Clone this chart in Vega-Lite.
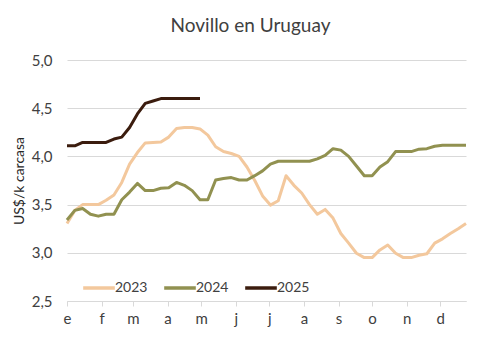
{
  "$schema": "https://vega.github.io/schema/vega-lite/v6.json",
  "width": 399,
  "height": 241,
  "autosize": "none",
  "padding": {"left": 67, "top": 60, "right": 34, "bottom": 47},
  "background": "white",
  "config": {
    "font": "Lato",
    "view": {"stroke": null}
  },
  "title": {
    "text": "Novillo en Uruguay",
    "fontSize": 19,
    "fontWeight": "normal",
    "color": "#404040",
    "anchor": "middle",
    "frame": "group",
    "dx": -16,
    "baseline": "alphabetic",
    "offset": 2
  },
  "data": {
    "values": [
      {"year": "2023", "day": 0, "price": 3.305}, {"year": "2023", "day": 7, "price": 3.44}, {"year": "2023", "day": 14, "price": 3.5}, {"year": "2023", "day": 21, "price": 3.5},
      {"year": "2023", "day": 28, "price": 3.5}, {"year": "2023", "day": 35, "price": 3.545}, {"year": "2023", "day": 42, "price": 3.6}, {"year": "2023", "day": 49, "price": 3.73},
      {"year": "2023", "day": 56, "price": 3.92}, {"year": "2023", "day": 63, "price": 4.04}, {"year": "2023", "day": 70, "price": 4.14}, {"year": "2023", "day": 77, "price": 4.145},
      {"year": "2023", "day": 84, "price": 4.15}, {"year": "2023", "day": 91, "price": 4.2}, {"year": "2023", "day": 98, "price": 4.29}, {"year": "2023", "day": 105, "price": 4.3},
      {"year": "2023", "day": 112, "price": 4.3}, {"year": "2023", "day": 119, "price": 4.285}, {"year": "2023", "day": 126, "price": 4.22}, {"year": "2023", "day": 133, "price": 4.1},
      {"year": "2023", "day": 140, "price": 4.05}, {"year": "2023", "day": 147, "price": 4.03}, {"year": "2023", "day": 154, "price": 4.0}, {"year": "2023", "day": 161, "price": 3.89},
      {"year": "2023", "day": 168, "price": 3.75}, {"year": "2023", "day": 175, "price": 3.59}, {"year": "2023", "day": 182, "price": 3.495}, {"year": "2023", "day": 189, "price": 3.54},
      {"year": "2023", "day": 196, "price": 3.8}, {"year": "2023", "day": 203, "price": 3.7}, {"year": "2023", "day": 210, "price": 3.62}, {"year": "2023", "day": 217, "price": 3.5},
      {"year": "2023", "day": 224, "price": 3.4}, {"year": "2023", "day": 231, "price": 3.45}, {"year": "2023", "day": 238, "price": 3.36}, {"year": "2023", "day": 245, "price": 3.2},
      {"year": "2023", "day": 252, "price": 3.1}, {"year": "2023", "day": 259, "price": 2.995}, {"year": "2023", "day": 266, "price": 2.95}, {"year": "2023", "day": 273, "price": 2.95},
      {"year": "2023", "day": 280, "price": 3.03}, {"year": "2023", "day": 287, "price": 3.08}, {"year": "2023", "day": 294, "price": 2.995}, {"year": "2023", "day": 301, "price": 2.95},
      {"year": "2023", "day": 308, "price": 2.95}, {"year": "2023", "day": 315, "price": 2.975}, {"year": "2023", "day": 322, "price": 2.99}, {"year": "2023", "day": 329, "price": 3.1},
      {"year": "2023", "day": 336, "price": 3.145}, {"year": "2023", "day": 343, "price": 3.2}, {"year": "2023", "day": 350, "price": 3.25}, {"year": "2023", "day": 357, "price": 3.305},

      {"year": "2024", "day": 0, "price": 3.34}, {"year": "2024", "day": 7, "price": 3.44}, {"year": "2024", "day": 14, "price": 3.46}, {"year": "2024", "day": 21, "price": 3.4},
      {"year": "2024", "day": 28, "price": 3.38}, {"year": "2024", "day": 35, "price": 3.4}, {"year": "2024", "day": 42, "price": 3.4}, {"year": "2024", "day": 49, "price": 3.55},
      {"year": "2024", "day": 56, "price": 3.63}, {"year": "2024", "day": 63, "price": 3.72}, {"year": "2024", "day": 70, "price": 3.645}, {"year": "2024", "day": 77, "price": 3.645},
      {"year": "2024", "day": 84, "price": 3.67}, {"year": "2024", "day": 91, "price": 3.675}, {"year": "2024", "day": 98, "price": 3.73}, {"year": "2024", "day": 105, "price": 3.7},
      {"year": "2024", "day": 112, "price": 3.645}, {"year": "2024", "day": 119, "price": 3.55}, {"year": "2024", "day": 126, "price": 3.55}, {"year": "2024", "day": 133, "price": 3.755},
      {"year": "2024", "day": 140, "price": 3.77}, {"year": "2024", "day": 147, "price": 3.78}, {"year": "2024", "day": 154, "price": 3.755}, {"year": "2024", "day": 161, "price": 3.755},
      {"year": "2024", "day": 168, "price": 3.8}, {"year": "2024", "day": 175, "price": 3.85}, {"year": "2024", "day": 182, "price": 3.92}, {"year": "2024", "day": 189, "price": 3.95},
      {"year": "2024", "day": 196, "price": 3.95}, {"year": "2024", "day": 203, "price": 3.95}, {"year": "2024", "day": 210, "price": 3.95}, {"year": "2024", "day": 217, "price": 3.95},
      {"year": "2024", "day": 224, "price": 3.975}, {"year": "2024", "day": 231, "price": 4.01}, {"year": "2024", "day": 238, "price": 4.08}, {"year": "2024", "day": 245, "price": 4.065},
      {"year": "2024", "day": 252, "price": 4.0}, {"year": "2024", "day": 259, "price": 3.9}, {"year": "2024", "day": 266, "price": 3.8}, {"year": "2024", "day": 273, "price": 3.8},
      {"year": "2024", "day": 280, "price": 3.89}, {"year": "2024", "day": 287, "price": 3.945}, {"year": "2024", "day": 294, "price": 4.05}, {"year": "2024", "day": 301, "price": 4.05},
      {"year": "2024", "day": 308, "price": 4.05}, {"year": "2024", "day": 315, "price": 4.075}, {"year": "2024", "day": 322, "price": 4.08}, {"year": "2024", "day": 329, "price": 4.105},
      {"year": "2024", "day": 336, "price": 4.115}, {"year": "2024", "day": 343, "price": 4.115}, {"year": "2024", "day": 350, "price": 4.115}, {"year": "2024", "day": 357, "price": 4.115},

      {"year": "2025", "day": 0, "price": 4.11}, {"year": "2025", "day": 7, "price": 4.11}, {"year": "2025", "day": 14, "price": 4.145}, {"year": "2025", "day": 21, "price": 4.145},
      {"year": "2025", "day": 28, "price": 4.145}, {"year": "2025", "day": 35, "price": 4.145}, {"year": "2025", "day": 42, "price": 4.18}, {"year": "2025", "day": 49, "price": 4.2},
      {"year": "2025", "day": 56, "price": 4.3}, {"year": "2025", "day": 63, "price": 4.44}, {"year": "2025", "day": 70, "price": 4.55}, {"year": "2025", "day": 77, "price": 4.575},
      {"year": "2025", "day": 84, "price": 4.6}, {"year": "2025", "day": 91, "price": 4.6}, {"year": "2025", "day": 98, "price": 4.6}, {"year": "2025", "day": 105, "price": 4.6},
      {"year": "2025", "day": 112, "price": 4.6}, {"year": "2025", "day": 119, "price": 4.6}
    ]
  },
  "mark": {"type": "line", "strokeWidth": 3, "strokeJoin": "round"},
  "encoding": {
    "x": {
      "field": "day",
      "type": "quantitative",
      "scale": {"domain": [0, 357], "nice": false, "zero": false},
      "axis": {
        "title": null,
        "values": [0, 31, 59, 90, 120, 151, 181, 212, 243, 273, 304, 334],
        "labelExpr": "['e','f','m','a','m','j','j','a','s','o','n','d'][indexof([0,31,59,90,120,151,181,212,243,273,304,334], datum.value)]",
        "grid": false,
        "domainColor": "#D9D9D9",
        "tickColor": "#D9D9D9",
        "tickSize": 5,
        "labelFontSize": 15,
        "labelColor": "#404040",
        "labelPadding": 5,
        "labelAlign": "center",
        "labelFlush": false
      }
    },
    "y": {
      "field": "price",
      "type": "quantitative",
      "scale": {"domain": [2.5, 5.0], "nice": false, "zero": false},
      "axis": {
        "title": "US$/k carcasa",
        "titleFontSize": 14,
        "titleFontWeight": "normal",
        "titleColor": "#262626",
        "titlePadding": 5,
        "values": [2.5, 3.0, 3.5, 4.0, 4.5, 5.0],
        "labelExpr": "replace(format(datum.value, '.1f'), '.', ',')",
        "domain": false,
        "ticks": false,
        "gridColor": "#D9D9D9",
        "labelFontSize": 15,
        "labelColor": "#404040",
        "labelPadding": 15
      }
    },
    "color": {
      "field": "year",
      "type": "nominal",
      "scale": {"domain": ["2023", "2024", "2025"], "range": ["#F3C89D", "#919150", "#3B1C0E"]},
      "legend": {
        "title": null,
        "orient": "none",
        "direction": "horizontal",
        "legendX": 14,
        "legendY": 210,
        "symbolType": "stroke",
        "symbolSize": 1000,
        "symbolStrokeWidth": 3.5,
        "labelFontSize": 14,
        "labelColor": "#404040",
        "labelOffset": -2,
        "columnPadding": 9,
        "padding": 0
      }
    }
  }
}
